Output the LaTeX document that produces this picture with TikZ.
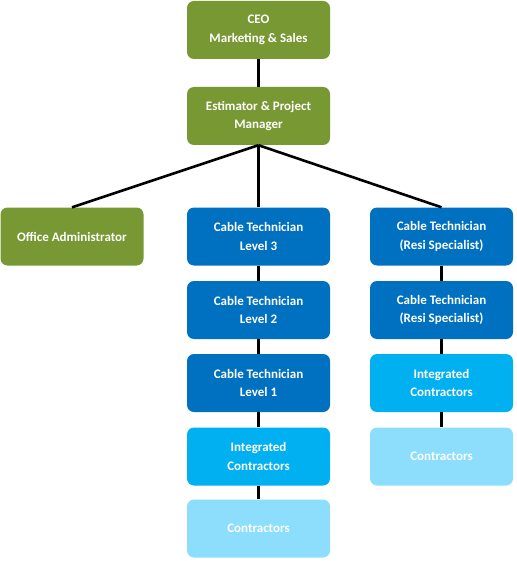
\documentclass[tikz,border=0pt]{standalone}
\usepackage{fontspec}
\setmainfont{Carlito}
\usetikzlibrary{positioning}
\definecolor{orgolive}{HTML}{789833}
\definecolor{orgblue}{HTML}{0070C0}
\definecolor{orgcyan}{HTML}{00B0F0}
\definecolor{orglight}{HTML}{8CDEFC}

\tikzset{
  rolebox/.style={rectangle, rounded corners=7pt, minimum width=143pt, minimum height=58pt,
    inner sep=0pt, align=center, text=white, font=\bfseries\fontsize{13}{18.5}\selectfont},
  mgmt/.style={rolebox, fill=orgolive},
  tech/.style={rolebox, fill=orgblue},
  integ/.style={rolebox, fill=orgcyan},
  contr/.style={rolebox, fill=orglight},
  link/.style={line width=2.6pt, black}
}

\begin{document}
\begin{tikzpicture}[x=1pt, y=-1pt]
\useasboundingbox (0,0) rectangle (516,561);

% management
\node[mgmt] (ceo) at (258.5, 30) {CEO\\Marketing \& Sales};
\node[mgmt] (est) at (258.5,116) {Estimator \& Project\\Manager};
\node[mgmt] (office) at (72,236.5) {Office Administrator};

% middle column
\node[tech]  (lvl3) at (258.5,236.5) {Cable Technician\\Level 3};
\node[tech]  (lvl2) at (258.5,310) {Cable Technician\\Level 2};
\node[tech]  (lvl1) at (258.5,383) {Cable Technician\\Level 1};
\node[integ] (intA) at (258.5,456.5) {Integrated\\Contractors};
\node[contr] (conA) at (258.5,528.5) {Contractors};

% right column
\node[tech]  (resi1) at (441.5,236.5) {Cable Technician\\(Resi Specialist)};
\node[tech]  (resi2) at (441.5,310) {Cable Technician\\(Resi Specialist)};
\node[integ] (intB)  at (441.5,383) {Integrated\\Contractors};
\node[contr] (conB)  at (441.5,456.5) {Contractors};

% connectors
\draw[link] (ceo) -- (est);
\draw[link] (est.south) -- (office.north);
\draw[link] (est.south) -- (lvl3.north);
\draw[link] (est.south) -- (resi1.north);
\draw[link] (lvl3) -- (lvl2);
\draw[link] (lvl2) -- (lvl1);
\draw[link] (lvl1) -- (intA);
\draw[link] (intA) -- (conA);
\draw[link] (resi1) -- (resi2);
\draw[link] (resi2) -- (intB);
\draw[link] (intB) -- (conB);
\end{tikzpicture}
\end{document}
